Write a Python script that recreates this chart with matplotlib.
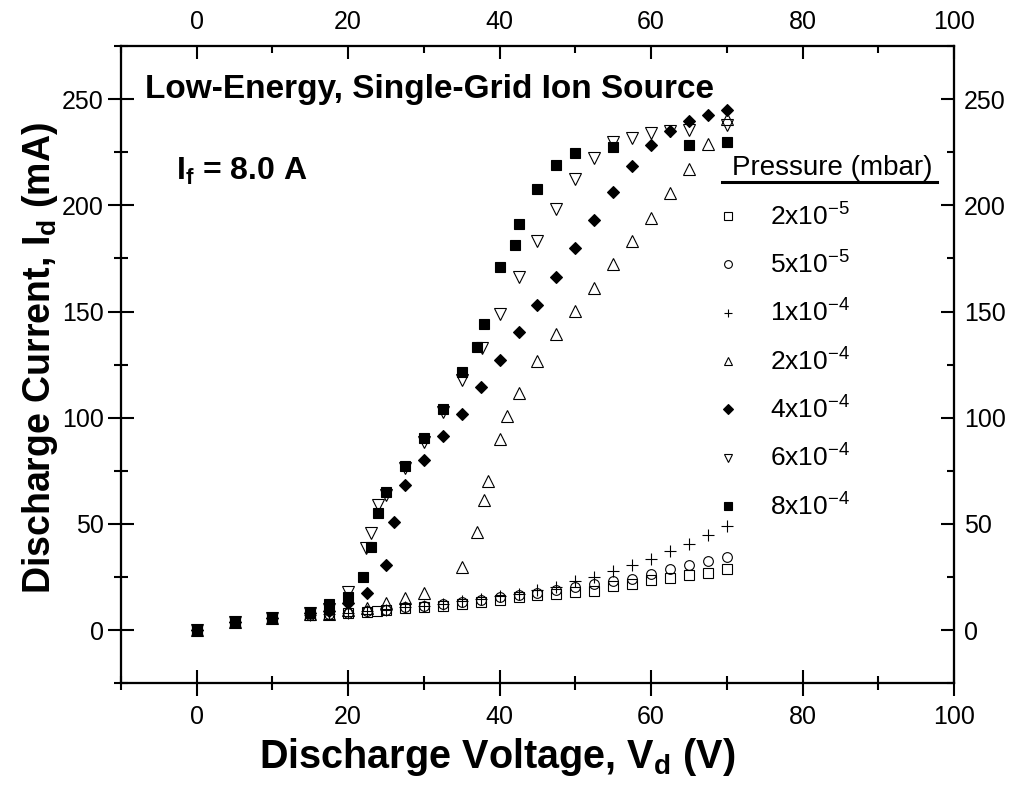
import matplotlib.pyplot as plt
from matplotlib.ticker import MultipleLocator

plt.rcParams['font.family'] = ['Liberation Sans', 'DejaVu Sans']
plt.rcParams['mathtext.fontset'] = 'custom'
plt.rcParams['mathtext.rm'] = 'Liberation Sans'
plt.rcParams['mathtext.bf'] = 'Liberation Sans:bold'
plt.rcParams['mathtext.it'] = 'Liberation Sans:italic'

# discharge voltage (V) / discharge current (mA) for each pressure
v_2e5 = [0, 5, 10, 15, 17.5, 20, 22.5, 23.75, 25, 27.5, 30, 32.5, 35, 37.5, 40, 42.5, 45, 47.5, 50,
         52.5, 55, 57.5, 60, 62.5, 65, 67.5, 70]
i_2e5 = [0, 3.9, 5.5, 7.3, 7.4, 8.0, 8.6, 9.0, 9.4, 10.2, 10.7, 11.6, 12.3, 13.2, 14.2, 15.4, 16.4, 17.0, 17.9,
         18.6, 20.8, 21.7, 23.6, 24.5, 25.8, 27.0, 28.6]

v_5e5 = [0, 5, 10, 15, 17.5, 20, 22.5, 25, 27.5, 30, 32.5, 35, 37.5, 40, 42.5, 45, 47.5, 50,
         52.5, 55, 57.5, 60, 62.5, 65, 67.5, 70]
i_5e5 = [0, 3.9, 5.5, 7.3, 7.4, 8.0, 8.8, 9.6, 11.0, 11.3, 12.3, 13.2, 14.2, 15.4, 16.5, 17.3, 18.9, 20.1,
         21.7, 23.0, 24.2, 26.4, 28.6, 30.5, 32.4, 34.6]

v_1e4 = [0, 5, 10, 15, 17.5, 20, 22.5, 25, 27.5, 30, 32.5, 35, 37.5, 40, 42.5, 45, 47.5, 50,
         52.5, 55, 57.5, 60, 62.5, 65, 67.5, 70]
i_1e4 = [0, 3.9, 5.5, 7.3, 7.4, 8.0, 8.8, 9.6, 11.0, 11.5, 12.5, 13.5, 14.7, 16.0, 17.2, 18.7, 20.5, 23.1,
         25.2, 28.0, 30.5, 33.7, 37.1, 40.7, 44.7, 48.8]

v_2e4 = [0, 5, 10, 15, 17.5, 20, 22.5, 25, 27.5, 30, 35, 37, 38, 38.5, 40, 41, 42.5, 45, 47.5, 50,
         52.5, 55, 57.5, 60, 62.5, 65, 67.5, 70]
i_2e4 = [0, 3.9, 5.5, 7.6, 7.6, 9.4, 10.5, 12.9, 15.0, 17.5, 29.6, 46.4, 61.5, 70.3, 90.0, 100.6, 111.6,
         126.6, 139.2, 150.2, 161.2, 172.2, 183.2, 194.2, 205.7, 217.3, 228.8, 240.6]

v_4e4 = [0, 5, 10, 15, 17.5, 20, 22.5, 25, 26, 27.5, 30, 32.5, 35, 37.5, 40, 42.5, 45, 47.5, 50,
         52.5, 55, 57.5, 60, 62.5, 65, 67.5, 70]
i_4e4 = [0, 3.9, 5.5, 7.9, 9.0, 12.9, 17.3, 30.7, 51.1, 68.5, 80.0, 91.2, 101.9, 114.3, 127.4, 140.4, 153.3,
         166.4, 179.7, 193.2, 206.3, 218.3, 228.3, 235.0, 239.5, 242.6, 245.0]

v_6e4 = [0, 5, 10, 15, 17.5, 20, 22.4, 23, 24, 25, 27.5, 30, 32.5, 35, 37.7, 40, 42.5, 45, 47.5, 50,
         52.5, 55, 57.5, 60, 62.5, 65, 70]
i_6e4 = [0, 3.9, 5.5, 7.9, 10.0, 17.8, 38.5, 45.6, 59.0, 63.7, 76.3, 88.8, 102.7, 117.9, 132.9, 149.0,
         166.2, 183.2, 198.4, 212.3, 222.5, 229.6, 231.5, 234.0, 235.0, 235.4, 237.7]

v_8e4 = [0, 5, 10, 15, 17.5, 20, 22, 23, 24, 25, 27.5, 30, 32.5, 35, 37, 38, 40, 42, 42.5, 45, 47.5,
         50, 55, 65, 70]
i_8e4 = [0, 3.9, 5.5, 8.2, 12.1, 15.7, 25.2, 39.0, 55.0, 65.0, 77.4, 90.4, 104.2, 121.4, 133.3, 144.3,
         171.0, 181.5, 191.4, 207.9, 219.2, 224.4, 227.5, 228.6, 229.9]

labels = [r'2x10$^{-5}$', r'5x10$^{-5}$', r'1x10$^{-4}$', r'2x10$^{-4}$',
          r'4x10$^{-4}$', r'6x10$^{-4}$', r'8x10$^{-4}$']

fig = plt.figure(figsize=(10.16, 7.85), dpi=100)
ax = fig.add_axes([0.119, 0.1296, 0.82, 0.8118])

series = [
    (v_2e5, i_2e5, 's', 'none', 6.5),
    (v_5e5, i_5e5, 'o', 'none', 7),
    (v_1e4, i_1e4, '+', 'none', 8),
    (v_2e4, i_2e4, '^', 'none', 8),
    (v_4e4, i_4e4, 'D', 'black', 6),
    (v_6e4, i_6e4, 'v', 'none', 8),
    (v_8e4, i_8e4, 's', 'black', 7),
]
for (v, i, m, fc, ms), lab in zip(series, labels):
    ax.plot(v, i, linestyle='none', marker=m, mfc=fc, mec='black', color='black',
            ms=ms, mew=0.8, label=lab)

ax.set_xlim(-10, 100)
ax.set_ylim(-25, 275)
ax.xaxis.set_major_locator(MultipleLocator(20))
ax.xaxis.set_minor_locator(MultipleLocator(10))
ax.yaxis.set_major_locator(MultipleLocator(50))
ax.yaxis.set_minor_locator(MultipleLocator(25))
ax.tick_params(which='major', direction='inout', length=19, width=1.5, labelsize=18)
ax.tick_params(which='minor', direction='inout', length=10, width=1.5)
ax.tick_params(axis='x', which='major', pad=6)
ax.tick_params(axis='y', which='major', pad=3)
for s in ax.spines.values():
    s.set_linewidth(1.5)

# top and right axes: same scales, ticks pointing in
axt = ax.twiny()
axt.set_xlim(ax.get_xlim())
axt.xaxis.set_major_locator(MultipleLocator(20))
axt.xaxis.set_minor_locator(MultipleLocator(10))
axt.tick_params(which='major', direction='in', length=9.5, width=1.5, labelsize=18, pad=9)
axt.tick_params(which='minor', direction='in', length=5, width=1.5)
axr = ax.twinx()
axr.set_ylim(ax.get_ylim())
axr.yaxis.set_major_locator(MultipleLocator(50))
axr.yaxis.set_minor_locator(MultipleLocator(25))
axr.tick_params(which='major', direction='in', length=9.5, width=1.5, labelsize=18, pad=7)
axr.tick_params(which='minor', direction='in', length=5, width=1.5)
for a in (axt, axr):
    for s in a.spines.values():
        s.set_linewidth(1.5)

ax.set_xlabel(r'Discharge Voltage, V$_\mathbf{d}$ (V)', fontsize=28.5, fontweight='bold')
ax.xaxis.set_label_coords(0.452, -0.083)
ax.set_ylabel(r'Discharge Current, I$_\mathbf{d}$ (mA)', fontsize=27, fontweight='bold')
ax.yaxis.set_label_coords(-0.073, 0.51)

ax.text(0.029, 0.918, 'Low-Energy, Single-Grid Ion Source', transform=ax.transAxes,
        fontsize=24, fontweight='bold', va='baseline', ha='left')
ax.text(0.066, 0.79, r'I$_\mathbf{f}$ = 8.0 A', transform=ax.transAxes,
        fontsize=23, fontweight='bold', va='baseline', ha='left')

ax.text(0.733, 0.798, 'Pressure (mbar)', transform=ax.transAxes, fontsize=20,
        va='baseline', ha='left')
ax.plot([0.722, 0.979], [0.787, 0.787], transform=ax.transAxes, color='black', lw=2.2,
        clip_on=False)

leg = ax.legend(loc='upper left', bbox_to_anchor=(0.697, 0.77), frameon=False, fontsize=19,
                handlelength=1.2, handletextpad=1.0, labelspacing=0.8, markerscale=0.8,
                borderaxespad=0)

fig.savefig('out.png', dpi=100)
